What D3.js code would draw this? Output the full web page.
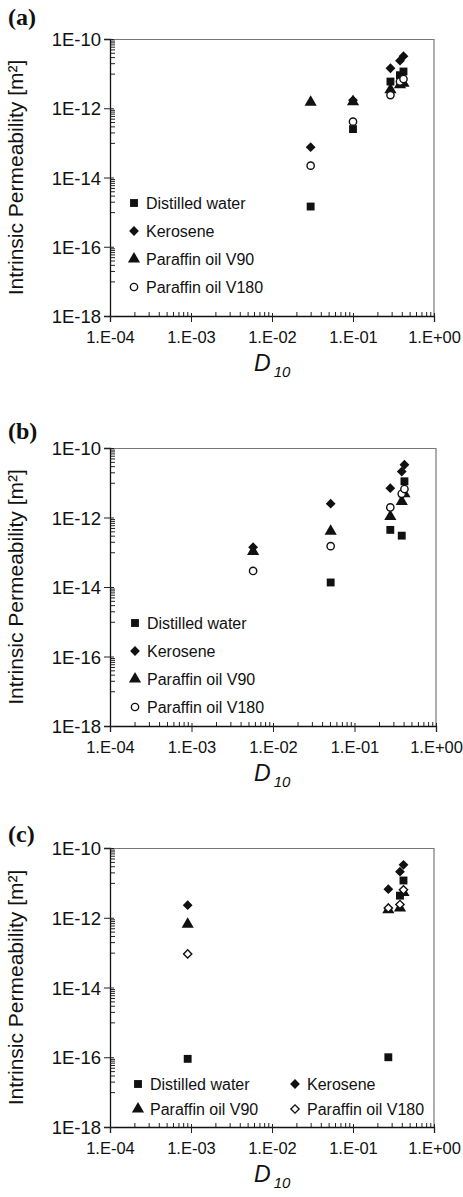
<!DOCTYPE html>
<html>
<head>
<meta charset="utf-8">
<script src="https://cdn.jsdelivr.net/npm/d3@7"></script>
<style>
  body { margin: 0; background: #fff; }
  svg text { font-family: "Liberation Sans", Arial, sans-serif; fill: #111; }
</style>
</head>
<body>
<div id="chart"></div>
<script>
// series names
var seriesNames = ["Distilled water", "Kerosene", "Paraffin oil V90", "Paraffin oil V180"];

// panel (a)
var d10_a = [0.03, 0.1, 0.29, 0.38, 0.42];
var water_a = [1.45e-15, 2.5e-13, 5.9e-12, 9e-12, 1.15e-11];
var kero_a = [7.5e-14, 1.7e-12, 1.43e-11, 2.37e-11, 3.2e-11];
var v90_a = [1.5e-12, 1.55e-12, 3.4e-12, 4.8e-12, 5.3e-12];
var v180_a = [2.2e-14, 4.1e-13, 2.4e-12, 5.9e-12, 7e-12];

// panel (b)
var d10_b = [0.0057, 0.051, 0.275, 0.38, 0.41];
var water_b = [null, 1.35e-14, 4.4e-13, 3e-13, 1.1e-11];
var kero_b = [1.4e-13, 2.5e-12, 7e-12, 2.1e-11, 3.3e-11];
var v90_b = [1.05e-13, 4e-13, 1.07e-12, 2.9e-12, 4.8e-12];
var v180_b = [2.9e-14, 1.5e-13, 1.95e-12, 4.8e-12, 6.6e-12];

// panel (c)
var d10_c = [0.00091, 0.273, 0.38, 0.42];
var water_c = [9e-17, 1e-16, 4.3e-12, 1.17e-11];
var kero_c = [2.3e-12, 6.6e-12, 2.1e-11, 3.3e-11];
var v90_c = [6.5e-13, 1.7e-12, 1.9e-12, 5.3e-12];
var v180_c = [9.2e-14, 1.9e-12, 2.4e-12, 6.3e-12];

// axis ticks
var xTicks = [1e-4, 1e-3, 1e-2, 1e-1, 1];
var xTickLabels = ["1.E-04", "1.E-03", "1.E-02", "1.E-01", "1.E+00"];
var yTicks = [1e-18, 1e-16, 1e-14, 1e-12, 1e-10];
var yTickLabels = ["1E-18", "1E-16", "1E-14", "1E-12", "1E-10"];

var W = 463, H = 1197;
var svg = d3.select("#chart").append("svg")
    .attr("width", W)
    .attr("height", H);

var panels = [
  {tag: "(a)", left: 110, top: 39, w: 324, h: 277, labelY: 25, d10: d10_a,
   series: [water_a, kero_a, v90_a, v180_a], openDiamond: false, legend: "col",
   legX: 134, legY: 203, legStep: 28},
  {tag: "(b)", left: 110, top: 448, w: 326, h: 278, labelY: 439, d10: d10_b,
   series: [water_b, kero_b, v90_b, v180_b], openDiamond: false, legend: "col",
   legX: 135, legY: 623, legStep: 28},
  {tag: "(c)", left: 110, top: 848, w: 324, h: 279, labelY: 842, d10: d10_c,
   series: [water_c, kero_c, v90_c, v180_c], openDiamond: true, legend: "grid",
   legX: 138, legY: 1084, legStep: 25}
];

function symbolPath(i, open) {
  if (i == 0) return d3.symbol().type(d3.symbolSquare).size(62)();
  if (i == 1) return d3.symbol().type(d3.symbolSquare).size(48)();
  if (i == 2) return d3.symbol().type(d3.symbolTriangle).size(64)();
  if (open) return d3.symbol().type(d3.symbolSquare).size(34)();
  return d3.symbol().type(d3.symbolCircle).size(42)();
}

function drawMarker(g, i, open, cx, cy) {
  var p = g.append("path")
      .attr("d", symbolPath(i, open))
      .attr("transform", "translate(" + cx + "," + cy + ")" + ((i == 1 || (i == 3 && open)) ? " rotate(45)" : ""));
  if (i == 3) {
    p.attr("fill", "#fff").attr("stroke", "#111").attr("stroke-width", 1.4);
  } else {
    p.attr("fill", "#111");
  }
}

panels.forEach(function(p) {
  var x = d3.scaleLog().domain([1e-4, 1]).range([0, p.w]);
  var y = d3.scaleLog().domain([1e-18, 1e-10]).range([p.h, 0]);

  var g = svg.append("g").attr("transform", "translate(" + p.left + "," + p.top + ")");

  // frame top/right in grey
  g.append("path")
      .attr("d", "M0,0.5H" + p.w + "V" + p.h)
      .attr("fill", "none")
      .attr("stroke", "#777")
      .attr("stroke-width", 1.2);

  // minor ticks
  var xMinor = [];
  [-4, -3, -2, -1].forEach(function(m) {
    for (var k = 2; k <= 9; k++) xMinor.push(k * Math.pow(10, m));
  });
  var yMinor = [];
  [-18, -16, -14, -12].forEach(function(m) {
    for (var k = 1; k <= 9; k++) yMinor.push(k * Math.pow(10, m + 1));
  });

  g.append("g")
      .attr("transform", "translate(0," + p.h + ")")
      .call(d3.axisBottom(x).tickValues(xMinor).tickSize(-4).tickFormat(""))
      .call(function(a) { a.select(".domain").remove(); });
  g.append("g")
      .call(d3.axisLeft(y).tickValues(yMinor).tickSize(-5).tickFormat(""))
      .call(function(a) { a.select(".domain").remove(); });

  // major axes
  var xa = g.append("g")
      .attr("transform", "translate(0," + p.h + ")")
      .call(d3.axisBottom(x).tickValues(xTicks).tickSizeOuter(0).tickSize(6).tickPadding(9)
        .tickFormat(function(d, i) { return xTickLabels[i]; }));
  xa.selectAll(".tick line").attr("y1", -3);
  xa.selectAll("text").attr("font-size", 16.5).attr("fill", "#111");

  var ya = g.append("g")
      .call(d3.axisLeft(y).tickValues(yTicks).tickSizeOuter(0).tickSize(6).tickPadding(3)
        .tickFormat(function(d, i) { return yTickLabels[i]; }));
  ya.selectAll(".tick line").attr("x1", 4);
  ya.selectAll("text").attr("font-size", 18.5).attr("dy", "0.36em").attr("fill", "#111");

  g.selectAll(".domain").attr("stroke", "#111").attr("stroke-width", 1.3);
  g.selectAll(".tick line").attr("stroke", "#222");

  // axis titles
  g.append("text")
      .attr("transform", "translate(" + (23 - p.left) + "," + (p.h / 2) + ") rotate(-90)")
      .attr("text-anchor", "middle")
      .attr("font-size", 21)
      .text("Intrinsic Permeability [m²]");

  var xt = g.append("text")
      .attr("x", 144)
      .attr("y", p.h + 55)
      .attr("font-size", 23)
      .attr("font-style", "italic");
  xt.append("tspan").text("D");
  xt.append("tspan").attr("dx", 3).attr("dy", 6).attr("font-size", 15).text("10");

  // panel tag
  svg.append("text")
      .attr("x", 8)
      .attr("y", p.labelY)
      .attr("font-size", 24)
      .attr("font-weight", "bold")
      .style("font-family", "'Liberation Serif', 'Times New Roman', serif")
      .text(p.tag);

  // points
  p.series.forEach(function(vals, si) {
    vals.forEach(function(v, j) {
      if (v == null) return;
      drawMarker(g, si, p.openDiamond, x(p.d10[j]), y(v));
    });
  });

  // legend
  var leg = svg.append("g");
  seriesNames.forEach(function(name, si) {
    var lx, ly;
    if (p.legend == "col") {
      lx = p.legX; ly = p.legY + si * p.legStep;
    } else {
      lx = p.legX + (si % 2) * 157; ly = p.legY + Math.floor(si / 2) * p.legStep;
    }
    drawMarker(leg, si, p.openDiamond, lx, ly);
    leg.append("text")
        .attr("x", lx + 12)
        .attr("y", ly)
        .attr("dy", "0.35em")
        .attr("font-size", 16)
        .text(name);
  });
});
</script>
</body>
</html>
